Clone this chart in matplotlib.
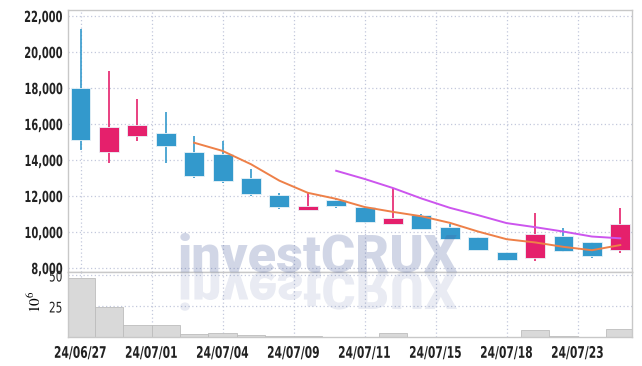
import matplotlib
matplotlib.use("Agg")
import matplotlib.pyplot as plt
import numpy as np
import pandas as pd
from matplotlib.patheffects import AbstractPathEffect
from matplotlib.transforms import Affine2D

dates = ["24/06/27", "24/06/28", "24/07/01", "24/07/02", "24/07/03", "24/07/04",
         "24/07/05", "24/07/08", "24/07/09", "24/07/10", "24/07/11", "24/07/12",
         "24/07/15", "24/07/16", "24/07/17", "24/07/18", "24/07/19", "24/07/22",
         "24/07/23", "24/07/24"]
opens = [18000, 14440, 15350, 15520, 14440, 14330, 13020, 12050, 11240, 11780,
         11390, 10460, 10960, 10280, 9720, 8890, 8570, 9780, 9440, 8980]
highs = [21280, 18950, 17400, 16680, 15330, 15060, 13480, 12180, 12240, 11870,
         11400, 12460, 10980, 10440, 9720, 8890, 11040, 10240, 9440, 11310]
lows = [14560, 13820, 15060, 13820, 13000, 12700, 11980, 11260, 11240, 11320,
        10520, 10460, 10170, 9610, 9000, 8400, 8390, 8910, 8570, 8820]
closes = [15100, 15830, 15960, 14800, 13110, 12830, 12130, 11390, 11430, 11430,
          10560, 10780, 10170, 9610, 9000, 8440, 9890, 8940, 8670, 10440]
volumes = [47.7, 24.6, 9.8, 9.8, 2.6, 3.6, 1.8, 1.0, 0.8, 0.6,
           0.6, 3.4, 0.6, 0.5, 0.5, 0.6, 5.8, 1.2, 0.6, 6.6]  # x 10^6

tick_pos = [0, 2.5, 5, 7.5, 10, 12.5, 15, 17.5]
tick_lbl = ["24/06/27", "24/07/01", "24/07/04", "24/07/09", "24/07/11",
            "24/07/15", "24/07/18", "24/07/23"]

BLUE = "#3399cc"
RED = "#e5206c"
GRID = "#c3c8dc"
SPINE = "#c8c8c8"


class Squeeze(AbstractPathEffect):
    # narrow the glyphs horizontally (condensed look), text stays text
    def __init__(self, sx, anchor):
        super().__init__()
        self.sx = sx
        self.anchor = anchor

    def draw_path(self, renderer, gc, tpath, affine, rgbFace=None):
        v = affine.transform(tpath.vertices)
        if len(v) == 0:
            return
        x0, x1 = v[:, 0].min(), v[:, 0].max()
        a = {"left": x0, "right": x1, "center": (x0 + x1) / 2}[self.anchor]
        t = Affine2D().translate(-a, 0).scale(self.sx, 1).translate(a, 0)
        renderer.draw_path(gc, tpath, affine + t, rgbFace)


class Mirror(AbstractPathEffect):
    def __init__(self, y0):
        super().__init__()
        self.y0 = y0

    def draw_path(self, renderer, gc, tpath, affine, rgbFace=None):
        flip = Affine2D().translate(0, -self.y0).scale(1, -1).translate(0, self.y0)
        renderer.draw_path(gc, tpath, affine + flip, rgbFace)


x = np.arange(len(dates))
o = np.array(opens); c = np.array(closes)
up = c >= o
cols = np.where(up, RED, BLUE)
ma5 = pd.Series(closes).rolling(5).mean()
ma10 = pd.Series(closes).rolling(10).mean()

plt.rcParams["mathtext.fontset"] = "stix"
fig = plt.figure(figsize=(6.42, 3.66), dpi=100)
ax = fig.add_axes([0.1064, 0.2568, 0.8788, 0.7167])
axv = fig.add_axes([0.1064, 0.0779, 0.8788, 0.1789], sharex=ax)

for a in (ax, axv):
    a.grid(True, linestyle=(0, (1, 2)), color=GRID, linewidth=0.9)
    a.set_axisbelow(True)
    for s in a.spines.values():
        s.set_color(SPINE)
        s.set_linewidth(1)
    a.tick_params(length=0, colors="#222222")

ax.vlines(x, lows, highs, colors=cols, linewidth=1.2, zorder=2)
ax.bar(x, np.abs(c - o), bottom=np.minimum(o, c), width=0.7, color=cols,
       edgecolor="#eaf3f8", linewidth=0.6, zorder=3)
ax.plot(x, ma5, color="#ee8048", linewidth=1.4, zorder=4)
ax.plot(x, ma10, color="#cc55ee", linewidth=1.4, zorder=4)

ax.set_ylim(7778, 22350)
ax.set_yticks(range(8000, 22001, 2000))
ax.set_yticklabels([f"{v:,}" for v in range(8000, 22001, 2000)],
                   fontweight="bold", fontsize=11)
ax.tick_params(axis="x", labelbottom=False)
ax.tick_params(axis="y", pad=4)
for t in ax.get_yticklabels():
    t.set_path_effects([Squeeze(0.65, "right")])

axv.bar(x, volumes, width=1.0, color="#d9d9d9", edgecolor="#bdbdbd",
        linewidth=0.6, zorder=2)
axv.set_ylim(0, 52.8)
axv.set_yticks([25, 50])
axv.set_yticklabels(["25", "50"], fontsize=10.5)
axv.tick_params(axis="y", pad=4)
for t in axv.get_yticklabels():
    t.set_path_effects([Squeeze(0.72, "right")])
axv.set_ylabel("$10^6$", fontsize=11)
axv.yaxis.set_label_coords(-0.043, 0.54)
axv.set_xlim(-0.43, 19.43)
axv.set_xticks(tick_pos)
axv.set_xticklabels(tick_lbl, fontweight="bold", fontsize=11.5)
axv.tick_params(axis="x", pad=6)
for t in axv.get_xticklabels():
    t.set_path_effects([Squeeze(0.67, "center")])

base_y = 94 / 366
fig.text(0.277, base_y, "investCRUX", family=["Roboto", "DejaVu Sans"],
         fontweight="heavy", fontsize=37.5, color="#4a5f9e", alpha=0.25,
         ha="left", va="baseline", zorder=10)
fig.text(0.277, base_y, "investCRUX", family=["Roboto", "DejaVu Sans"],
         fontweight="heavy", fontsize=37.5, color="#4a5f9e", alpha=0.12,
         ha="left", va="baseline", zorder=10,
         path_effects=[Mirror(94)])

fig.savefig("out.png", dpi=100)
